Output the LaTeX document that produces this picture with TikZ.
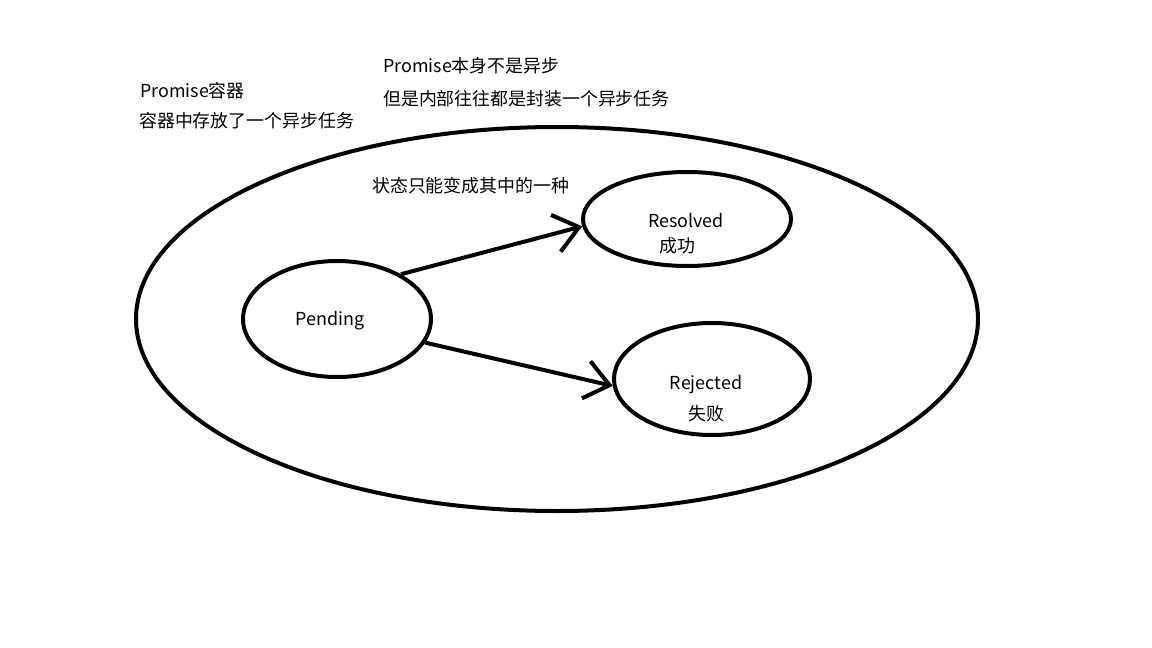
\documentclass[tikz,border=0pt]{standalone}
\usepackage{fontspec}
\setmainfont{Noto Sans CJK SC}
\usetikzlibrary{shapes.geometric,arrows.meta}

\tikzset{state/.style={shape=ellipse,draw=black,line width=4pt,inner sep=0pt},
        note/.style={inner sep=0pt,yshift=-1.5pt,font=\fontsize{17.9}{21}\selectfont},
        move/.style={line width=4pt,-{Straight Barb[length=24pt,width=38pt,line width=4pt]}}}

\begin{document}
\begin{tikzpicture}[x=1pt,y=-1pt]
        \useasboundingbox[fill=white] (0,0) rectangle (1152,648);
        \node[state,minimum width=842pt,minimum height=384pt] (box) at (557,319) {};
        \node[state,minimum width=188pt,minimum height=116pt] (P) at (337,319) {};
        \node[state,minimum width=208pt,minimum height=94pt] (R) at (687,219) {};
        \node[state,minimum width=196pt,minimum height=112pt] (J) at (712,379) {};

        \node[note,anchor=west] (t1) at (140,89) {Promise容器};
        \node[note,anchor=west] (t2) at (139,119) {容器中存放了一个异步任务};
        \node[note,anchor=west] (t3) at (383,64) {Promise本身不是异步};
        \node[note,anchor=west] (t4) at (383,97) {但是内部往往都是封装一个异步任务};
        \node[note,anchor=west] (t5) at (372,184) {状态只能变成其中的一种};
        \node[note] (p) at (330,319) {Pending};
        \node[note] (r1) at (686,219) {Resolved};
        \node[note] (r2) at (677,244) {成功};
        \node[note] (j1) at (706,383) {Rejected};
        \node[note] (j2) at (706,412) {失败};

        \path [move] (P.35) edge node {} (R.184);
        \path [move] (P.-15) edge node {} (J.184);
      \end{tikzpicture}
\end{document}
